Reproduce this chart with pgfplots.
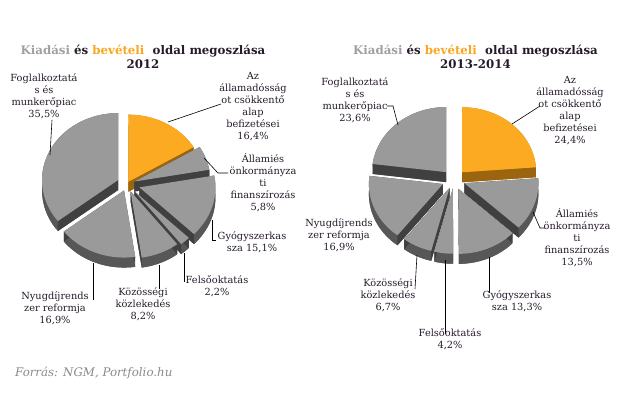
\documentclass[border=0pt]{standalone}
\usepackage{fontspec}
\setmainfont{DejaVu Serif}
\usepackage{pgfplots}
\usepackage{pgfplotstable}
\pgfplotsset{compat=1.18}

\definecolor{gr-top}{HTML}{9A9A9A}
\definecolor{gr-wall}{HTML}{575757}
\definecolor{gr-rad}{HTML}{404040}
\definecolor{or-top}{HTML}{FBAA22}
\definecolor{or-wall}{HTML}{B87B14}
\definecolor{or-rad}{HTML}{9A650E}
\definecolor{lblcol}{HTML}{261A2A}
\definecolor{titlegray}{HTML}{A0A0A0}
\definecolor{titleorange}{HTML}{F9A620}
\definecolor{srcgray}{HTML}{8A8A8A}

\tikzset{labelnode/.style={align=center, text=lblcol, inner sep=0pt, font={\fontsize{9.8}{12}\selectfont}}}

% 2012
\pgfplotstableread{
name value explode
adossag 16.4 3
allami 5.8 8
gyogy 15.1 13
felso 2.2 11
kozos 8.2 9
nyugdij 16.9 8
foglalk 35.5 10
}\tabA
% 2013-2014
\pgfplotstableread{
name value explode
adossag 24.4 12
allami 13.5 11
gyogy 13.3 11
felso 4.2 10
kozos 6.7 10
nyugdij 16.9 12
foglalk 23.6 12
}\tabB

\newcommand\preppie[2]{%
  \def\pietotal{0}%
  \pgfplotsforeachungrouped \i in {0,...,6}{%
    \pgfplotstablegetelem{\i}{value}\of#1%
    \pgfmathsetmacro\pietotal{\pietotal+\pgfplotsretval}%
  }%
  \def\piecum{0}%
  \pgfplotsforeachungrouped \i in {0,...,6}{%
    \pgfplotstablegetelem{\i}{value}\of#1%
    \let\pieval\pgfplotsretval
    \pgfmathsetmacro\piefr{\piecum/\pietotal}%
    \pgfmathsetmacro\pieA{90-360*\piefr}%
    \pgfmathsetmacro\piecum{\piecum+\pieval}%
    \pgfmathsetmacro\piefr{\piecum/\pietotal}%
    \pgfmathsetmacro\pieB{90-360*\piefr}%
    \pgfplotstablegetelem{\i}{explode}\of#1%
    \expandafter\xdef\csname #2s\i\endcsname{\pieA}%
    \expandafter\xdef\csname #2e\i\endcsname{\pieB}%
    \expandafter\xdef\csname #2d\i\endcsname{\pgfplotsretval}%
  }%
}

% #1 prefix #2 index #3 cx #4 cy #5 rx #6 ry #7 depth #8 colour base
\newcommand\drawslice[8]{%
  \pgfmathsetmacro\Ps{\csname #1s#2\endcsname}%
  \pgfmathsetmacro\Pe{\csname #1e#2\endcsname}%
  \pgfmathsetmacro\Pd{\csname #1d#2\endcsname}%
  \pgfmathsetmacro\Pspan{\Ps-\Pe}%
  \pgfmathsetmacro\Pm{(\Ps+\Pe)/2}%
  \pgfmathsetmacro\ox{#3+\Pd*cos(\Pm)}%
  \pgfmathsetmacro\oy{#4-\Pd*sin(\Pm)*#6/#5}%
  \pgfmathsetmacro\oyb{\oy+#7}%
  \pgfmathsetmacro\sx{\ox+#5*cos(\Ps)}%
  \pgfmathsetmacro\sy{\oy-#6*sin(\Ps)}%
  \pgfmathsetmacro\syb{\sy+#7}%
  \pgfmathsetmacro\ex{\ox+#5*cos(\Pe)}%
  \pgfmathsetmacro\ey{\oy-#6*sin(\Pe)}%
  \pgfmathsetmacro\eyb{\ey+#7}%
  \edef\temp{%
    \noexpand\addplot[fill=#8-wall,draw=none,domain=\Pe:\Ps,samples=40,variable=\noexpand\t]
      ({\ox+#5*cos(\noexpand\t)},{\oyb-#6*sin(\noexpand\t)}) -- (axis cs:\ox,\oyb) -- cycle;
    \noexpand\addplot[fill=#8-wall,draw=none,domain=0:2,samples=121,variable=\noexpand\t]
      ({\ox+#5*cos(((\noexpand\t<1.001)?(\Pe+\Pspan*\noexpand\t):(\Ps-\Pspan*(\noexpand\t-1))))},
       {\oy-#6*sin(((\noexpand\t<1.001)?(\Pe+\Pspan*\noexpand\t):(\Ps-\Pspan*(\noexpand\t-1))))+((\noexpand\t<1.001)?0:#7)}) -- cycle;
    \noexpand\addplot[fill=#8-rad,draw=none] coordinates {(\ox,\oy)(\ox,\oyb)(\sx,\syb)(\sx,\sy)} -- cycle;
    \noexpand\addplot[fill=#8-rad,draw=none] coordinates {(\ox,\oy)(\ox,\oyb)(\ex,\eyb)(\ex,\ey)} -- cycle;
    \noexpand\addplot[fill=#8-top,draw=none,domain=\Pe:\Ps,samples=40,variable=\noexpand\t]
      ({\ox+#5*cos(\noexpand\t)},{\oy-#6*sin(\noexpand\t)}) -- (axis cs:\ox,\oy) -- cycle;
  }\temp
}

\begin{document}
\preppie{\tabA}{A}%
\preppie{\tabB}{B}%
\begin{tikzpicture}
\begin{axis}[
  width=620pt, height=393pt, scale only axis,
  xmin=0, xmax=620, ymin=0, ymax=393, y dir=reverse,
  hide axis, clip=false,
]
% ---- 2012 pie (back to front)
\drawslice{A}{0}{127}{184}{76}{67}{10}{or}
\drawslice{A}{6}{127}{184}{76}{67}{10}{gr}
\drawslice{A}{1}{127}{184}{76}{67}{10}{gr}
\drawslice{A}{2}{127}{184}{76}{67}{10}{gr}
\drawslice{A}{3}{127}{184}{76}{67}{10}{gr}
\drawslice{A}{4}{127}{184}{76}{67}{10}{gr}
\drawslice{A}{5}{127}{184}{76}{67}{10}{gr}
% ---- 2013-2014 pie
\drawslice{B}{6}{454}{180}{74}{65}{10}{gr}
\drawslice{B}{0}{454}{180}{74}{65}{10}{or}
\drawslice{B}{1}{454}{180}{74}{65}{10}{gr}
\drawslice{B}{5}{454}{180}{74}{65}{10}{gr}
\drawslice{B}{4}{454}{180}{74}{65}{10}{gr}
\drawslice{B}{2}{454}{180}{74}{65}{10}{gr}
\drawslice{B}{3}{454}{180}{74}{65}{10}{gr}

% leader lines 2012
\addplot[black, line width=0.6pt] coordinates {(52,120)(50,155)};
\addplot[black, line width=0.6pt] coordinates {(221,104)(168,122)};
\addplot[black, line width=0.6pt] coordinates {(204,158)(218,173)(228,173)};
\addplot[black, line width=0.6pt] coordinates {(212,220)(212,240)(216,240)};
\addplot[black, line width=0.6pt] coordinates {(184,253)(184,282)};
\addplot[black, line width=0.6pt] coordinates {(159,265)(159,289)};
\addplot[black, line width=0.6pt] coordinates {(93,263)(93,300)};
% leader lines 2013-2014
\addplot[black, line width=0.6pt] coordinates {(387,106)(393,106)(398,125)};
\addplot[black, line width=0.6pt] coordinates {(540,106)(512,124)};
\addplot[black, line width=0.6pt] coordinates {(533,212)(540,228)(545,228)};
\addplot[black, line width=0.6pt] coordinates {(489,257)(489,293)};
\addplot[black, line width=0.6pt] coordinates {(445,260)(445,334)};
\addplot[black, line width=0.6pt] coordinates {(417,255)(415,289)};

% titles
\node[align=center, inner sep=0pt, font={\bfseries\fontsize{11.8}{14}\selectfont}, text=lblcol] at (axis cs:143,57)
  {{\color{titlegray}Kiadási} és {\color{titleorange}bevételi}\ \ oldal megoszlása\\2012};
\node[align=center, inner sep=0pt, font={\bfseries\fontsize{11.8}{14}\selectfont}, text=lblcol] at (axis cs:475.5,57)
  {{\color{titlegray}Kiadási} és {\color{titleorange}bevételi}\ \ oldal megoszlása\\2013-2014};

% labels 2012
\node[labelnode] at (axis cs:44,96) {Foglalkoztatá\\s és\\munkerőpiac\\35,5\%};
\node[labelnode] at (axis cs:253,106.5) {Az\\államadósság\\ot csökkentő\\alap\\befizetései\\16,4\%};
\node[labelnode] at (axis cs:263,182.5) {Államiés\\önkormányza\\ti\\finanszírozás\\5,8\%};
\node[labelnode] at (axis cs:252,242) {Gyógyszerkas\\sza 15,1\%};
\node[labelnode] at (axis cs:217,286) {Felsőoktatás\\2,2\%};
\node[labelnode] at (axis cs:143,304) {Közösségi\\közlekedés\\8,2\%};
\node[labelnode] at (axis cs:55,308.5) {Nyugdíjrends\\zer reformja\\16,9\%};
% labels 2013-2014
\node[labelnode] at (axis cs:355,100.5) {Foglalkoztatá\\s és\\munkerőpiac\\23,6\%};
\node[labelnode] at (axis cs:570,110.5) {Az\\államadósság\\ot csökkentő\\alap\\befizetései\\24,4\%};
\node[labelnode] at (axis cs:577,237.5) {Államiés\\önkormányza\\ti\\finanszírozás\\13,5\%};
\node[labelnode] at (axis cs:517,301) {Gyógyszerkas\\sza 13,3\%};
\node[labelnode] at (axis cs:450,339.5) {Felsőoktatás\\4,2\%};
\node[labelnode] at (axis cs:388,295.5) {Közösségi\\közlekedés\\6,7\%};
\node[labelnode] at (axis cs:339,235) {Nyugdíjrends\\zer reformja\\16,9\%};

% source
\node[anchor=west, inner sep=0pt, text=srcgray, font={\itshape\fontsize{11.8}{14}\selectfont}] at (axis cs:15,373) {Forrás: NGM, Portfolio.hu};
\end{axis}
\pgfresetboundingbox
\path (current axis.south west) rectangle (current axis.north east);
\end{tikzpicture}
\end{document}
